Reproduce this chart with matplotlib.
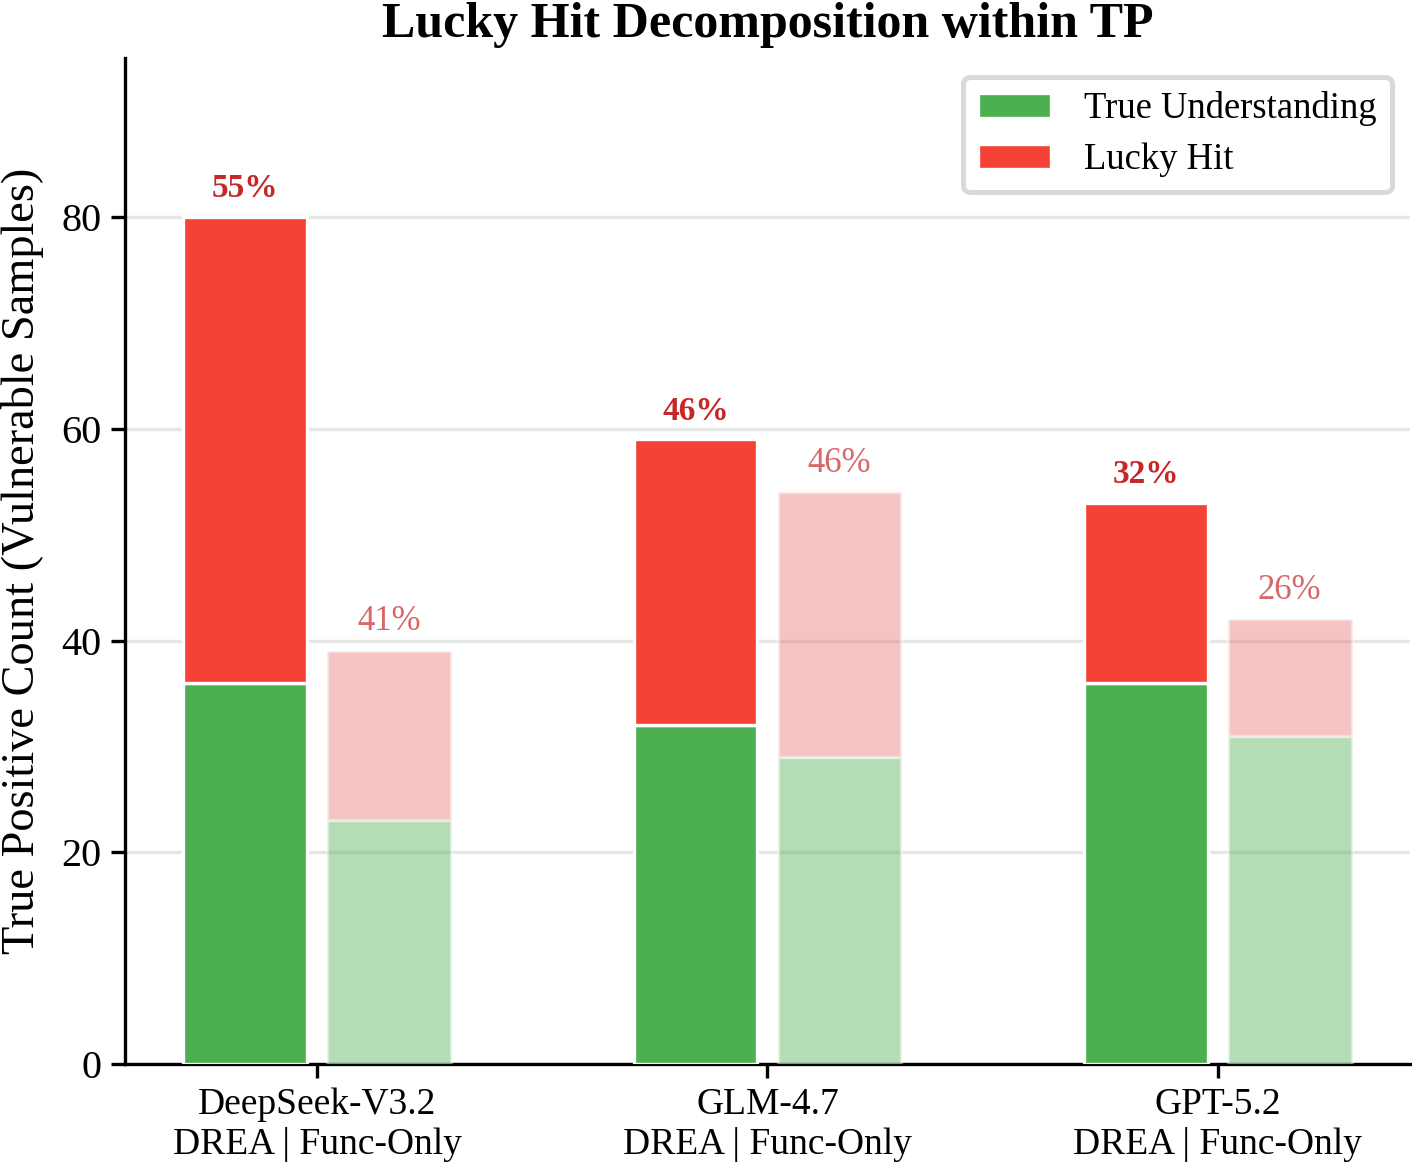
import numpy as np
import matplotlib.pyplot as plt

plt.rcParams['font.family'] = ['Liberation Serif', 'DejaVu Serif']

models = ['DeepSeek-V3.2', 'GLM-4.7', 'GPT-5.2']
drea_true = [36, 32, 36]
drea_lucky = [44, 27, 17]
func_true = [23, 29, 31]
func_lucky = [16, 25, 11]

green = '#4CAF50'
red = '#F44336'
dark_red = '#C62828'

fig, ax = plt.subplots(figsize=(7.06, 5.835), dpi=200)
fig.subplots_adjust(left=0.0885, right=0.9986, bottom=0.0883, top=0.950)

x = np.arange(len(models))
w = 0.275
off = 0.16

ax.bar(x - off, drea_true, w, color=green, edgecolor='white', linewidth=1.2,
       label='True Understanding', zorder=3)
ax.bar(x - off, drea_lucky, w, bottom=drea_true, color=red, edgecolor='white',
       linewidth=1.2, label='Lucky Hit', zorder=3)
ax.bar(x + off, func_true, w, color=green, alpha=0.42, edgecolor='white',
       linewidth=1.2, zorder=3)
ax.bar(x + off, func_lucky, w, bottom=func_true, color='#E57373', alpha=0.42,
       edgecolor='white', linewidth=1.2, zorder=3)

for i in range(len(models)):
    tot = drea_true[i] + drea_lucky[i]
    ax.text(x[i] - off, tot + 1.2, f'{drea_lucky[i] / tot * 100:.0f}%',
            ha='center', va='bottom', fontsize=12, fontweight='bold',
            color=dark_red, zorder=4)
    tot = func_true[i] + func_lucky[i]
    ax.text(x[i] + off, tot + 1.2, f'{func_lucky[i] / tot * 100:.0f}%',
            ha='center', va='bottom', fontsize=12.5, color=dark_red,
            alpha=0.7, zorder=4)

ax.set_xticks(x)
ax.set_xticklabels([m + '\nDREA | Func-Only' for m in models], fontsize=13.5)
ax.set_ylim(0, 95)
ax.set_yticks([0, 20, 40, 60, 80])
ax.tick_params(axis='y', labelsize=14.5, width=1.2, length=5)
ax.tick_params(axis='x', width=1.2, length=5)
ax.set_ylabel('True Positive Count (Vulnerable Samples)', fontsize=16.7,
              labelpad=6)

# title placed just above the axes, close to the top edge
fig.text(0.5436, 1 - 37 / 1167, 'Lucky Hit Decomposition within TP',
         fontsize=18, fontweight='bold', ha='center', va='baseline')

ax.grid(axis='y', color='#e6e6e6', linewidth=1.2, zorder=0)
ax.set_axisbelow(True)
for s in ['top', 'right']:
    ax.spines[s].set_visible(False)
for s in ['left', 'bottom']:
    ax.spines[s].set_linewidth(1.2)

leg = ax.legend(loc='upper right', fontsize=13.2, frameon=True, fancybox=True,
                handlelength=2.0, handleheight=0.65, handletextpad=0.9,
                borderpad=0.4, labelspacing=0.45)
leg.get_frame().set_edgecolor('#d0d0d0')
leg.get_frame().set_linewidth(1.8)

plt.savefig('out.png')
